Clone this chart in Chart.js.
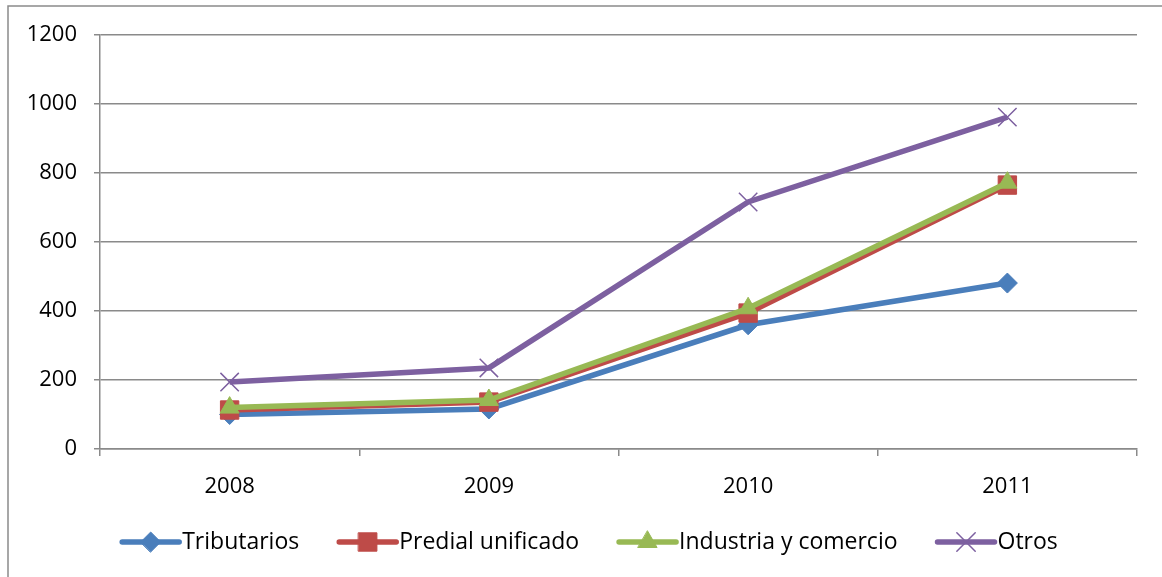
<!DOCTYPE html>
<html>
<head>
<meta charset="utf-8">
<script src="https://cdn.jsdelivr.net/npm/chart.js@4/dist/chart.umd.min.js"></script>
<style>
  html, body { margin: 0; padding: 0; background: #fff; }
  #wrap { width: 1162px; height: 577px; }
</style>
</head>
<body>
<div id="wrap"><canvas id="chart" width="1162" height="577"></canvas></div>
<script>
const years = ['2008', '2009', '2010', '2011'];
const tributarios = [100, 116, 360, 481];
const predial = [113, 136, 394, 765];
const industria = [120, 142, 408, 772];
const otros = [194, 235, 716, 962];
const yTicks = [0, 200, 400, 600, 800, 1000, 1200];

const FONT = '"Open Sans", sans-serif';
const GRID = '#8a8a8a';

// frame round the whole chart (right and bottom edges fall off the canvas)
const framePlugin = {
  id: 'frame',
  beforeDraw(chart) {
    const ctx = chart.ctx;
    ctx.save();
    ctx.strokeStyle = GRID;
    ctx.lineWidth = 1.5;
    ctx.strokeRect(8, 6, 1200, 700);
    ctx.restore();
  }
};

// excel-like legend: line + marker, then label
const legendPlugin = {
  id: 'xlLegend',
  afterDraw(chart) {
    const ctx = chart.ctx;
    const sets = chart.data.datasets;
    const lineLen = 57, gapText = 3, gapItem = 40, cy = 542;
    ctx.save();
    ctx.font = '23px ' + FONT;
    const widths = sets.map(d => ctx.measureText(d.label).width);
    const total = widths.reduce((a, w) => a + lineLen + gapText + w, 0) + gapItem * (sets.length - 1);
    let x = 590 - total / 2;
    sets.forEach((d, i) => {
      ctx.strokeStyle = d.borderColor;
      ctx.lineWidth = 5.5;
      ctx.lineCap = 'round';
      ctx.beginPath();
      ctx.moveTo(x, cy);
      ctx.lineTo(x + lineLen, cy);
      ctx.stroke();
      ctx.fillStyle = d.pointBackgroundColor;
      ctx.strokeStyle = d.pointBorderColor;
      ctx.lineWidth = d.pointBorderWidth;
      Chart.helpers.drawPoint(ctx, { pointStyle: d.pointStyle, radius: d.pointRadius, rotation: 0, borderWidth: d.pointBorderWidth }, x + lineLen / 2, cy);
      ctx.fillStyle = '#000';
      ctx.textBaseline = 'middle';
      ctx.textAlign = 'left';
      ctx.fillText(d.label, x + lineLen + gapText, cy);
      x += lineLen + gapText + widths[i] + gapItem;
    });
    ctx.restore();
  }
};

function series(label, data, color, style, radius, order, borderW) {
  return {
    label, data, order,
    borderColor: color,
    borderWidth: 5.5,
    pointStyle: style,
    pointRadius: radius,
    pointBackgroundColor: color,
    pointBorderColor: color,
    pointBorderWidth: borderW,
    tension: 0,
    fill: false
  };
}

new Chart(document.getElementById('chart'), {
  type: 'line',
  data: {
    labels: years,
    datasets: [
      series('Tributarios', tributarios, '#4a7ebb', 'rectRot', 10, 3, 1),
      series('Predial unificado', predial, '#be4b48', 'rect', 13, 2, 1),
      series('Industria y comercio', industria, '#98b954', 'triangle', 11, 1, 1),
      series('Otros', otros, '#7d60a0', 'crossRot', 13, 0, 1.5)
    ]
  },
  options: {
    responsive: false,
    animation: false,
    layout: { padding: { left: 0, top: 35, right: 25, bottom: 68 } },
    plugins: { legend: { display: false }, tooltip: { enabled: false } },
    scales: {
      x: {
        offset: true,
        grid: { offset: true, drawOnChartArea: false, drawTicks: true, tickLength: 7, color: GRID, lineWidth: 1.5 },
        border: { color: GRID, width: 1.5 },
        ticks: { color: '#000', font: { family: FONT, size: 22 }, padding: 18 },
        afterFit(scale) { scale.height = 60; }
      },
      y: {
        min: 0,
        max: 1200,
        afterBuildTicks(scale) { scale.ticks = yTicks.map(v => ({ value: v })); },
        grid: { color: GRID, lineWidth: 1.5, tickLength: 6 },
        border: { color: GRID, width: 1.5 },
        ticks: { color: '#000', font: { family: FONT, size: 22 }, padding: 17, callback: v => String(v) },
        afterFit(scale) { scale.width = 100; }
      }
    }
  },
  plugins: [framePlugin, legendPlugin]
});
</script>
</body>
</html>
